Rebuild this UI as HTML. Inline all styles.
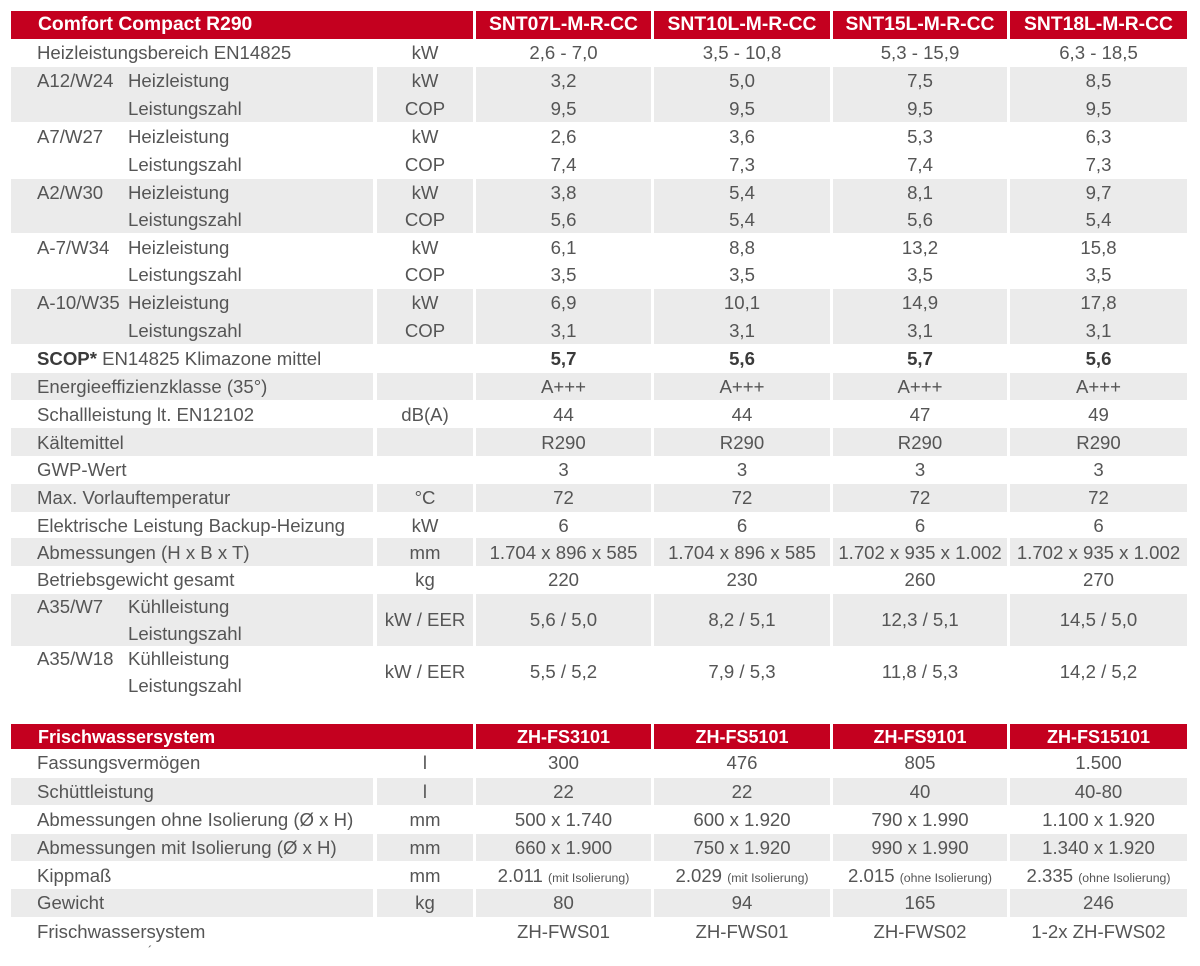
<!DOCTYPE html>
<html>
<head>
<meta charset="utf-8">
<style>
html,body{margin:0;padding:0;background:#fff;}
body{width:1200px;height:966px;position:relative;overflow:hidden;font-family:"Liberation Sans",Arial,sans-serif;color:#555;}
.r{position:absolute;left:0;width:1200px;}
.r i{position:absolute;top:0;bottom:0;background:#ebebeb;}
.r b{position:absolute;top:0;bottom:0;background:#c4001f;}
.L{left:11px;width:362px;}
.U{left:377px;width:96px;}
.LU{left:11px;width:462px;}
.C1{left:476px;width:175px;}
.C2{left:654px;width:176px;}
.C3{left:833px;width:174px;}
.C4{left:1010px;width:177px;}
.t{position:absolute;height:20px;line-height:20px;font-size:18.6px;text-align:center;white-space:nowrap;}
.lt{position:absolute;height:20px;line-height:20px;font-size:18.6px;left:37px;white-space:nowrap;}
.st{position:absolute;height:20px;line-height:20px;font-size:18.6px;left:128px;white-space:nowrap;}
.h{position:absolute;height:20px;line-height:20px;font-weight:bold;color:#fff;white-space:nowrap;text-align:center;}
.h1{font-size:19.3px;}
.h2{font-size:18px;}
.bd{font-weight:bold;color:#3a3a3a;}
small{font-size:12.3px;}
</style>
</head>
<body>

<!-- ===== TABLE 1 ===== -->
<div class="r" style="top:11px;height:28px"><b class="LU"></b><b class="C1"></b><b class="C2"></b><b class="C3"></b><b class="C4"></b></div>
<div class="h h1" style="left:38px;top:15px;text-align:left">Comfort Compact R290</div>
<div class="h h1 C1" style="top:15px">SNT07L-M-R-CC</div>
<div class="h h1 C2" style="top:15px">SNT10L-M-R-CC</div>
<div class="h h1 C3" style="top:15px">SNT15L-M-R-CC</div>
<div class="h h1 C4" style="top:15px">SNT18L-M-R-CC</div>

<!-- gray blocks -->
<div class="r" style="top:67px;height:55px"><i class="L"></i><i class="U"></i><i class="C1"></i><i class="C2"></i><i class="C3"></i><i class="C4"></i></div>
<div class="r" style="top:179px;height:54px"><i class="L"></i><i class="U"></i><i class="C1"></i><i class="C2"></i><i class="C3"></i><i class="C4"></i></div>
<div class="r" style="top:289px;height:55px"><i class="L"></i><i class="U"></i><i class="C1"></i><i class="C2"></i><i class="C3"></i><i class="C4"></i></div>
<div class="r" style="top:373px;height:27px"><i class="L"></i><i class="U"></i><i class="C1"></i><i class="C2"></i><i class="C3"></i><i class="C4"></i></div>
<div class="r" style="top:428px;height:28px"><i class="L"></i><i class="U"></i><i class="C1"></i><i class="C2"></i><i class="C3"></i><i class="C4"></i></div>
<div class="r" style="top:484px;height:28px"><i class="L"></i><i class="U"></i><i class="C1"></i><i class="C2"></i><i class="C3"></i><i class="C4"></i></div>
<div class="r" style="top:538px;height:28px"><i class="L"></i><i class="U"></i><i class="C1"></i><i class="C2"></i><i class="C3"></i><i class="C4"></i></div>
<div class="r" style="top:594px;height:52px"><i class="L"></i><i class="U"></i><i class="C1"></i><i class="C2"></i><i class="C3"></i><i class="C4"></i></div>

<div class="lt" style="top:43px">Heizleistungsbereich EN14825</div>
<div class="t U" style="top:43px">kW</div>
<div class="t C1" style="top:43px">2,6 - 7,0</div>
<div class="t C2" style="top:43px">3,5 - 10,8</div>
<div class="t C3" style="top:43px">5,3 - 15,9</div>
<div class="t C4" style="top:43px">6,3 - 18,5</div>

<div class="lt" style="top:71px">A12/W24</div>
<div class="st" style="top:71px">Heizleistung</div>
<div class="t U" style="top:71px">kW</div>
<div class="t C1" style="top:71px">3,2</div>
<div class="t C2" style="top:71px">5,0</div>
<div class="t C3" style="top:71px">7,5</div>
<div class="t C4" style="top:71px">8,5</div>
<div class="st" style="top:99px">Leistungszahl</div>
<div class="t U" style="top:99px">COP</div>
<div class="t C1" style="top:99px">9,5</div>
<div class="t C2" style="top:99px">9,5</div>
<div class="t C3" style="top:99px">9,5</div>
<div class="t C4" style="top:99px">9,5</div>

<div class="lt" style="top:127px">A7/W27</div>
<div class="st" style="top:127px">Heizleistung</div>
<div class="t U" style="top:127px">kW</div>
<div class="t C1" style="top:127px">2,6</div>
<div class="t C2" style="top:127px">3,6</div>
<div class="t C3" style="top:127px">5,3</div>
<div class="t C4" style="top:127px">6,3</div>
<div class="st" style="top:155px">Leistungszahl</div>
<div class="t U" style="top:155px">COP</div>
<div class="t C1" style="top:155px">7,4</div>
<div class="t C2" style="top:155px">7,3</div>
<div class="t C3" style="top:155px">7,4</div>
<div class="t C4" style="top:155px">7,3</div>

<div class="lt" style="top:183px">A2/W30</div>
<div class="st" style="top:183px">Heizleistung</div>
<div class="t U" style="top:183px">kW</div>
<div class="t C1" style="top:183px">3,8</div>
<div class="t C2" style="top:183px">5,4</div>
<div class="t C3" style="top:183px">8,1</div>
<div class="t C4" style="top:183px">9,7</div>
<div class="st" style="top:210px">Leistungszahl</div>
<div class="t U" style="top:210px">COP</div>
<div class="t C1" style="top:210px">5,6</div>
<div class="t C2" style="top:210px">5,4</div>
<div class="t C3" style="top:210px">5,6</div>
<div class="t C4" style="top:210px">5,4</div>

<div class="lt" style="top:238px">A-7/W34</div>
<div class="st" style="top:238px">Heizleistung</div>
<div class="t U" style="top:238px">kW</div>
<div class="t C1" style="top:238px">6,1</div>
<div class="t C2" style="top:238px">8,8</div>
<div class="t C3" style="top:238px">13,2</div>
<div class="t C4" style="top:238px">15,8</div>
<div class="st" style="top:265px">Leistungszahl</div>
<div class="t U" style="top:265px">COP</div>
<div class="t C1" style="top:265px">3,5</div>
<div class="t C2" style="top:265px">3,5</div>
<div class="t C3" style="top:265px">3,5</div>
<div class="t C4" style="top:265px">3,5</div>

<div class="lt" style="top:293px">A-10/W35</div>
<div class="st" style="top:293px">Heizleistung</div>
<div class="t U" style="top:293px">kW</div>
<div class="t C1" style="top:293px">6,9</div>
<div class="t C2" style="top:293px">10,1</div>
<div class="t C3" style="top:293px">14,9</div>
<div class="t C4" style="top:293px">17,8</div>
<div class="st" style="top:321px">Leistungszahl</div>
<div class="t U" style="top:321px">COP</div>
<div class="t C1" style="top:321px">3,1</div>
<div class="t C2" style="top:321px">3,1</div>
<div class="t C3" style="top:321px">3,1</div>
<div class="t C4" style="top:321px">3,1</div>

<div class="lt" style="top:349px"><span class="bd">SCOP*</span> EN14825 Klimazone mittel</div>
<div class="t C1 bd" style="top:349px">5,7</div>
<div class="t C2 bd" style="top:349px">5,6</div>
<div class="t C3 bd" style="top:349px">5,7</div>
<div class="t C4 bd" style="top:349px">5,6</div>

<div class="lt" style="top:377px">Energieeffizienzklasse (35°)</div>
<div class="t C1" style="top:377px">A+++</div>
<div class="t C2" style="top:377px">A+++</div>
<div class="t C3" style="top:377px">A+++</div>
<div class="t C4" style="top:377px">A+++</div>

<div class="lt" style="top:405px">Schallleistung lt. EN12102</div>
<div class="t U" style="top:405px">dB(A)</div>
<div class="t C1" style="top:405px">44</div>
<div class="t C2" style="top:405px">44</div>
<div class="t C3" style="top:405px">47</div>
<div class="t C4" style="top:405px">49</div>

<div class="lt" style="top:433px">Kältemittel</div>
<div class="t C1" style="top:433px">R290</div>
<div class="t C2" style="top:433px">R290</div>
<div class="t C3" style="top:433px">R290</div>
<div class="t C4" style="top:433px">R290</div>

<div class="lt" style="top:460px">GWP-Wert</div>
<div class="t C1" style="top:460px">3</div>
<div class="t C2" style="top:460px">3</div>
<div class="t C3" style="top:460px">3</div>
<div class="t C4" style="top:460px">3</div>

<div class="lt" style="top:488px">Max. Vorlauftemperatur</div>
<div class="t U" style="top:488px">°C</div>
<div class="t C1" style="top:488px">72</div>
<div class="t C2" style="top:488px">72</div>
<div class="t C3" style="top:488px">72</div>
<div class="t C4" style="top:488px">72</div>

<div class="lt" style="top:516px">Elektrische Leistung Backup-Heizung</div>
<div class="t U" style="top:516px">kW</div>
<div class="t C1" style="top:516px">6</div>
<div class="t C2" style="top:516px">6</div>
<div class="t C3" style="top:516px">6</div>
<div class="t C4" style="top:516px">6</div>

<div class="lt" style="top:543px">Abmessungen (H x B x T)</div>
<div class="t U" style="top:543px">mm</div>
<div class="t C1" style="top:543px">1.704 x 896 x 585</div>
<div class="t C2" style="top:543px">1.704 x 896 x 585</div>
<div class="t C3" style="top:543px">1.702 x 935 x 1.002</div>
<div class="t C4" style="top:543px">1.702 x 935 x 1.002</div>

<div class="lt" style="top:570px">Betriebsgewicht gesamt</div>
<div class="t U" style="top:570px">kg</div>
<div class="t C1" style="top:570px">220</div>
<div class="t C2" style="top:570px">230</div>
<div class="t C3" style="top:570px">260</div>
<div class="t C4" style="top:570px">270</div>

<div class="lt" style="top:597px">A35/W7</div>
<div class="st" style="top:597px">Kühlleistung</div>
<div class="st" style="top:624px">Leistungszahl</div>
<div class="t U" style="top:610px">kW / EER</div>
<div class="t C1" style="top:610px">5,6 / 5,0</div>
<div class="t C2" style="top:610px">8,2 / 5,1</div>
<div class="t C3" style="top:610px">12,3 / 5,1</div>
<div class="t C4" style="top:610px">14,5 / 5,0</div>

<div class="lt" style="top:649px">A35/W18</div>
<div class="st" style="top:649px">Kühlleistung</div>
<div class="st" style="top:676px">Leistungszahl</div>
<div class="t U" style="top:662px">kW / EER</div>
<div class="t C1" style="top:662px">5,5 / 5,2</div>
<div class="t C2" style="top:662px">7,9 / 5,3</div>
<div class="t C3" style="top:662px">11,8 / 5,3</div>
<div class="t C4" style="top:662px">14,2 / 5,2</div>

<!-- ===== TABLE 2 ===== -->
<div class="r" style="top:724px;height:25px"><b class="LU"></b><b class="C1"></b><b class="C2"></b><b class="C3"></b><b class="C4"></b></div>
<div class="h h2" style="left:38px;top:727px;text-align:left">Frischwassersystem</div>
<div class="h h2 C1" style="top:727px">ZH-FS3101</div>
<div class="h h2 C2" style="top:727px">ZH-FS5101</div>
<div class="h h2 C3" style="top:727px">ZH-FS9101</div>
<div class="h h2 C4" style="top:727px">ZH-FS15101</div>

<div class="r" style="top:778px;height:27px"><i class="L"></i><i class="U"></i><i class="C1"></i><i class="C2"></i><i class="C3"></i><i class="C4"></i></div>
<div class="r" style="top:834px;height:27px"><i class="L"></i><i class="U"></i><i class="C1"></i><i class="C2"></i><i class="C3"></i><i class="C4"></i></div>
<div class="r" style="top:889px;height:28px"><i class="L"></i><i class="U"></i><i class="C1"></i><i class="C2"></i><i class="C3"></i><i class="C4"></i></div>

<div class="lt" style="top:753px">Fassungsvermögen</div>
<div class="t U" style="top:753px">l</div>
<div class="t C1" style="top:753px">300</div>
<div class="t C2" style="top:753px">476</div>
<div class="t C3" style="top:753px">805</div>
<div class="t C4" style="top:753px">1.500</div>

<div class="lt" style="top:782px">Schüttleistung</div>
<div class="t U" style="top:782px">l</div>
<div class="t C1" style="top:782px">22</div>
<div class="t C2" style="top:782px">22</div>
<div class="t C3" style="top:782px">40</div>
<div class="t C4" style="top:782px">40-80</div>

<div class="lt" style="top:810px">Abmessungen ohne Isolierung (Ø x H)</div>
<div class="t U" style="top:810px">mm</div>
<div class="t C1" style="top:810px">500 x 1.740</div>
<div class="t C2" style="top:810px">600 x 1.920</div>
<div class="t C3" style="top:810px">790 x 1.990</div>
<div class="t C4" style="top:810px">1.100 x 1.920</div>

<div class="lt" style="top:838px">Abmessungen mit Isolierung (Ø x H)</div>
<div class="t U" style="top:838px">mm</div>
<div class="t C1" style="top:838px">660 x 1.900</div>
<div class="t C2" style="top:838px">750 x 1.920</div>
<div class="t C3" style="top:838px">990 x 1.990</div>
<div class="t C4" style="top:838px">1.340 x 1.920</div>

<div class="lt" style="top:866px">Kippmaß</div>
<div class="t U" style="top:866px">mm</div>
<div class="t C1" style="top:866px">2.011 <small>(mit Isolierung)</small></div>
<div class="t C2" style="top:866px">2.029 <small>(mit Isolierung)</small></div>
<div class="t C3" style="top:866px">2.015 <small>(ohne Isolierung)</small></div>
<div class="t C4" style="top:866px">2.335 <small>(ohne Isolierung)</small></div>

<div class="lt" style="top:893px">Gewicht</div>
<div class="t U" style="top:893px">kg</div>
<div class="t C1" style="top:893px">80</div>
<div class="t C2" style="top:893px">94</div>
<div class="t C3" style="top:893px">165</div>
<div class="t C4" style="top:893px">246</div>

<div class="lt" style="top:922px">Frischwassersystem</div>
<div class="t C1" style="top:922px">ZH-FWS01</div>
<div class="t C2" style="top:922px">ZH-FWS01</div>
<div class="t C3" style="top:922px">ZH-FWS02</div>
<div class="t C4" style="top:922px">1-2x ZH-FWS02</div>

<div style="position:absolute;left:148px;top:944px;font-size:13px;line-height:14px;color:#666">´</div>

</body>
</html>
